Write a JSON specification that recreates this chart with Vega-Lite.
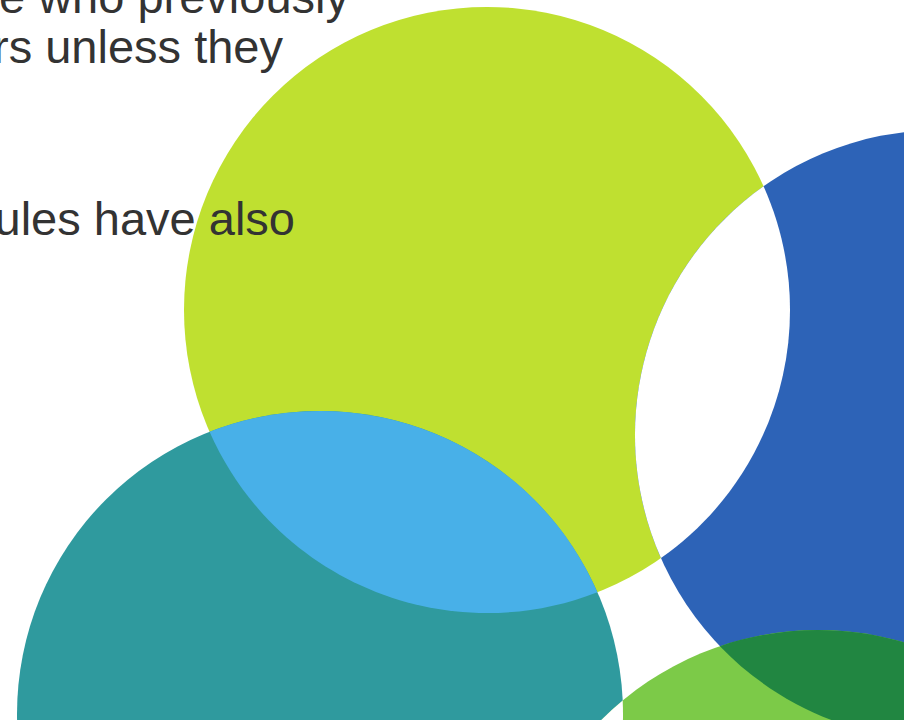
{
  "$schema": "https://vega.github.io/schema/vega-lite/v6.json",
  "width": 904,
  "height": 720,
  "padding": 0,
  "autosize": "none",
  "background": "white",
  "config": {"view": {"stroke": null}},
  "layer": [
    {
      "data": {
        "values": [
          {"id": "lime", "shape": "circle", "x": 487, "y": 310, "r": 303},
          {"id": "blue", "shape": "circle", "x": 940, "y": 435, "r": 305},
          {"id": "teal", "shape": "circle", "x": 320, "y": 714, "r": 303},
          {"id": "green", "shape": "circle", "x": 818, "y": 936, "r": 306},
          {"id": "lime∩teal", "shape": "lime∩teal", "x": 487, "y": 310, "r": 303},
          {"id": "lime∩blue", "shape": "lime∩blue", "x": 487, "y": 310, "r": 303},
          {"id": "teal∩green", "shape": "teal∩green", "x": 320, "y": 714, "r": 303},
          {"id": "blue∩green", "shape": "blue∩green", "x": 940, "y": 435, "r": 305}
        ]
      },
      "mark": {"type": "point", "filled": true, "opacity": 1, "strokeWidth": 0, "clip": true},
      "encoding": {
        "x": {"field": "x", "type": "quantitative", "scale": {"domain": [0, 904], "nice": false, "zero": false}, "axis": null},
        "y": {"field": "y", "type": "quantitative", "scale": {"domain": [0, 720], "nice": false, "zero": false, "reverse": true}, "axis": null},
        "size": {"field": "r", "type": "quantitative", "scale": {"type": "pow", "exponent": 2, "domain": [0, 400], "range": [0, 640000]}, "legend": null},
        "color": {
          "field": "id", "type": "nominal", "legend": null,
          "scale": {
            "domain": ["lime", "blue", "teal", "green", "lime∩teal", "lime∩blue", "teal∩green", "blue∩green"],
            "range": ["#BFE030", "#2D63B7", "#2F9A9E", "#7CCA48", "#48B0E8", "#FFFFFF", "#FFFFFF", "#218641"]
          }
        },
        "shape": {
          "field": "shape", "type": "nominal", "legend": null,
          "scale": {
            "domain": ["circle", "lime∩teal", "lime∩blue", "teal∩green", "blue∩green"],
            "range": [
              "circle",
              "M-0.9156,0.4021A1,1,0,0,0,0.3645,0.9312A1,1,0,0,0,-0.9156,0.4021Z",
              "M0.9127,-0.4085A1,1,0,0,1,0.5741,0.8188A1.0066,1.0066,0,0,1,0.9127,-0.4085Z",
              "M0.9990,-0.0448A1,1,0,0,1,0.6345,0.7729A1.0099,1.0099,0,0,1,0.9990,-0.0448Z",
              "M-0.7216,0.6923A1,1,0,0,0,0.3225,0.9466A1.0033,1.0033,0,0,0,-0.7216,0.6923Z"
            ]
          }
        }
      }
    },
    {
      "data": {
        "values": [
          {"text": "those who previously", "x": 349, "y": 13},
          {"text": "others unless they", "x": 283, "y": 63},
          {"text": "rules have also", "x": 295, "y": 235}
        ]
      },
      "mark": {"type": "text", "align": "right", "baseline": "alphabetic", "font": "Liberation Sans", "fontSize": 47, "color": "#333333"},
      "encoding": {
        "x": {"field": "x", "type": "quantitative"},
        "y": {"field": "y", "type": "quantitative"},
        "text": {"field": "text"}
      }
    }
  ]
}
